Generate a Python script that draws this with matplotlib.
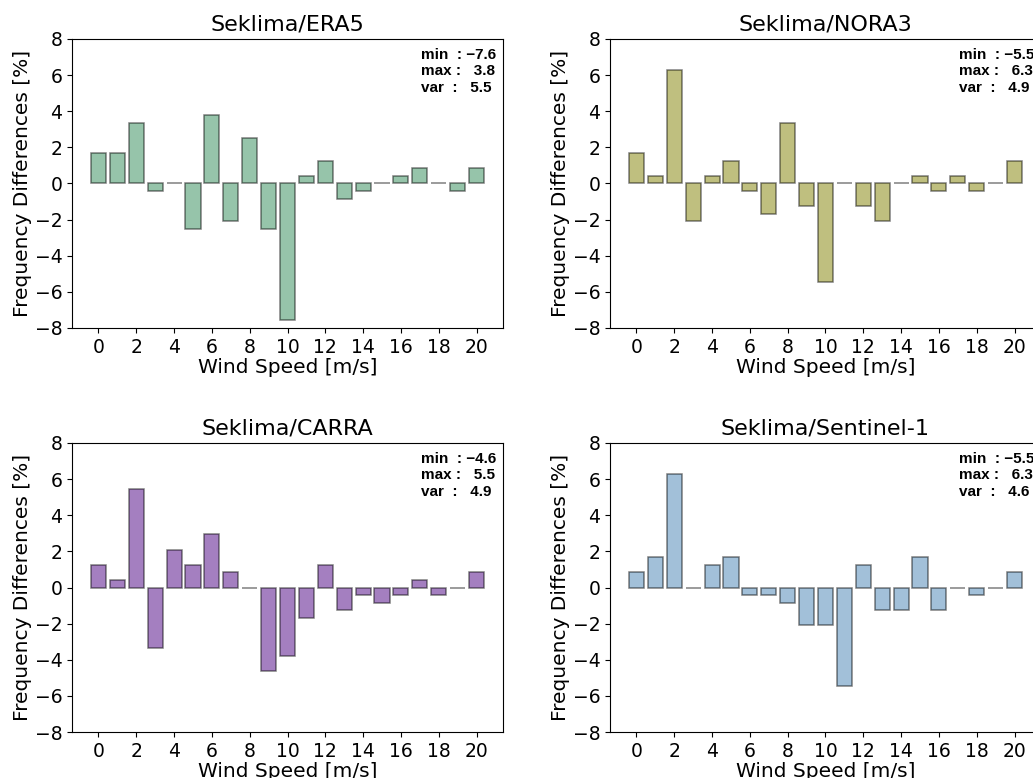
import numpy as np
import matplotlib
matplotlib.use("Agg")
import matplotlib.pyplot as plt

# wind speed bins and frequency differences [%]
speeds = np.arange(21)

era5 = [1.68, 1.68, 3.36, -0.42, 0.0, -2.52, 3.78, -2.10, 2.52, -2.52, -7.56,
        0.42, 1.26, -0.84, -0.42, 0.0, 0.42, 0.84, 0.0, -0.42, 0.84]
nora3 = [1.68, 0.42, 6.30, -2.10, 0.42, 1.26, -0.42, -1.68, 3.36, -1.26, -5.46,
         0.0, -1.26, -2.10, 0.0, 0.42, -0.42, 0.42, -0.42, 0.0, 1.26]
carra = [1.26, 0.42, 5.46, -3.36, 2.10, 1.26, 2.94, 0.84, 0.0, -4.62, -3.78,
         -1.68, 1.26, -1.26, -0.42, -0.84, -0.42, 0.42, -0.42, 0.0, 0.84]
sentinel1 = [0.84, 1.68, 6.30, 0.0, 1.26, 1.68, -0.42, -0.42, -0.84, -2.10, -2.10,
             -5.46, 1.26, -1.26, -1.26, 1.68, -1.26, 0.0, -0.42, 0.0, 0.84]

titles = ["Seklima/ERA5", "Seklima/NORA3", "Seklima/CARRA", "Seklima/Sentinel-1"]
series = [era5, nora3, carra, sentinel1]
colors = ["seagreen", "olive", "indigo", "steelblue"]
stats = [("\u22127.6", "3.8", "5.5"),
         ("\u22125.5", "6.3", "4.9"),
         ("\u22124.6", "5.5", "4.9"),
         ("\u22125.5", "6.3", "4.6")]

W, H = 1033, 778
fig = plt.figure(figsize=(W / 100, H / 100), dpi=100)

# axes boxes in pixels (left, top), right column runs past the canvas edge
boxes = [(72, 39), (610, 39), (72, 443), (610, 443)]
aw, ah = 431, 289

for (x0, y0), title, vals, col, st in zip(boxes, titles, series, colors, stats):
    ax = fig.add_axes([x0 / W, 1 - (y0 + ah) / H, aw / W, ah / H])
    ax.bar(speeds, vals, width=0.8, color=col, edgecolor="black",
           alpha=0.5, linewidth=1.1)
    ax.set_xlim(-1.4, 21.4)
    ax.set_ylim(-8, 8)
    ax.set_xticks(np.arange(0, 21, 2))
    ax.set_yticks(np.arange(-8, 9, 2))
    ax.tick_params(labelsize=13.5)
    ax.set_title(title, fontsize=16)
    ax.set_xlabel("Wind Speed [m/s]", fontsize=14.5, labelpad=1)
    ax.set_ylabel("Frequency Differences [%]", fontsize=14.5, labelpad=2)
    txt = "min  : %s\nmax :   %s\nvar  :   %s" % st
    ax.text(0.81, 0.968, txt, transform=ax.transAxes, ha="left", va="top",
            fontsize=11, fontweight="bold", family="Liberation Sans",
            linespacing=1.2)

fig.savefig("out.png", dpi=100)
